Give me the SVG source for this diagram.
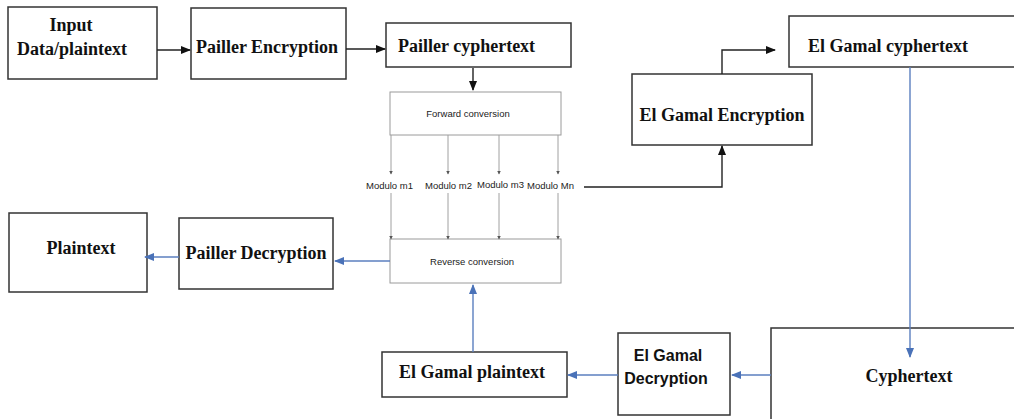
<svg xmlns="http://www.w3.org/2000/svg" width="1014" height="419" viewBox="0 0 1014 419">
<style>
.box{fill:#fff;stroke:#333;stroke-width:1.5}
.gbox{fill:#fff;stroke:#9a9a9a;stroke-width:1}
.t{font-family:"Liberation Serif","Times New Roman",serif;font-weight:bold;font-size:18px;fill:#111}
.s{font-family:"Liberation Sans",Arial,sans-serif;font-weight:bold;font-size:16px;fill:#111}
.sm{font-family:"Liberation Sans",Arial,sans-serif;font-size:9.5px;fill:#222}
.k{fill:none;stroke:#222;stroke-width:1.4}
.b{fill:none;stroke:#5b7fbf;stroke-width:1.4}
.g{fill:none;stroke:#a0a0a0;stroke-width:1}
</style>
<defs>
<marker id="ak" markerWidth="10" markerHeight="8" refX="9" refY="4" orient="auto" markerUnits="userSpaceOnUse"><path d="M0,0 L10,4 L0,8 z" fill="#111"/></marker>
<marker id="ab" markerWidth="10" markerHeight="8" refX="9" refY="4" orient="auto" markerUnits="userSpaceOnUse"><path d="M0,0 L10,4 L0,8 z" fill="#4a72b8"/></marker>
<marker id="ag" markerWidth="4" markerHeight="4" refX="3.5" refY="2" orient="auto" markerUnits="userSpaceOnUse"><path d="M0,0 L4,2 L0,4 z" fill="#555"/></marker>
</defs>
<rect width="1014" height="419" fill="#fff"/>
<g id="input"><rect class="box" x="8" y="7" width="149" height="72"/><text class="t" x="71" y="31" text-anchor="middle" font-size="17">Input</text><text class="t" x="72" y="55" text-anchor="middle" font-size="17">Data/plaintext</text></g>
<g id="pailler-enc"><rect class="box" x="191" y="8" width="155" height="71"/><text class="t" x="267" y="53" text-anchor="middle">Pailler  Encryption</text></g>
<g id="pailler-cipher"><rect class="box" x="386" y="23" width="185" height="44"/><text class="t" x="398" y="52">Pailler  cyphertext</text></g>
<g id="forward"><rect class="gbox" x="390" y="92" width="171" height="43"/><text class="sm" x="468" y="117" text-anchor="middle">Forward conversion</text></g>
<g id="modulos"><text class="sm" x="366" y="189" font-size="10.5">Modulo m1</text><text class="sm" x="425" y="189" font-size="10.5">Modulo m2</text><text class="sm" x="477" y="188" font-size="10.5">Modulo m3</text><text class="sm" x="527" y="189" font-size="10.5">Modulo Mn</text></g>
<g id="reverse"><rect class="gbox" x="390" y="239" width="171" height="44"/><text class="sm" x="472" y="265" text-anchor="middle">Reverse conversion</text></g>
<g id="elgamal-enc"><rect class="box" x="632" y="74" width="180" height="71"/><text class="t" x="722" y="121" text-anchor="middle">El Gamal  Encryption</text></g>
<g id="elgamal-cipher"><rect class="box" x="789" y="16" width="240" height="51"/><text class="t" x="808" y="52">El Gamal  cyphertext</text></g>
<g id="plaintext"><rect class="box" x="9" y="213" width="138" height="79"/><text class="t" x="81" y="254" text-anchor="middle">Plaintext</text></g>
<g id="pailler-dec"><rect class="box" x="179" y="218" width="154" height="71"/><text class="t" x="256" y="259" text-anchor="middle">Pailler  Decryption</text></g>
<g id="elgamal-plain"><rect class="box" x="382" y="352" width="185" height="45"/><text class="t" x="472" y="378" text-anchor="middle">El Gamal  plaintext</text></g>
<g id="elgamal-dec"><rect class="box" x="618" y="333" width="112" height="82"/><text class="s" x="668" y="361" text-anchor="middle">El Gamal</text><text class="s" x="666" y="384" text-anchor="middle">Decryption</text></g>
<g id="cyphertext"><rect class="box" x="771" y="328" width="260" height="110"/><text class="t" x="909" y="382" text-anchor="middle">Cyphertext</text></g>
<g id="connectors">
<path class="k" d="M157,50 H190" marker-end="url(#ak)"/>
<path class="k" d="M346,49 H385" marker-end="url(#ak)"/>
<path class="k" d="M473,68 V90" marker-end="url(#ak)"/>
<path class="g" d="M391,135 V174" marker-end="url(#ag)"/>
<path class="g" d="M448,135 V174" marker-end="url(#ag)"/>
<path class="g" d="M499,135 V174" marker-end="url(#ag)"/>
<path class="g" d="M558,135 V174" marker-end="url(#ag)"/>
<path class="g" d="M391,193 V239" marker-end="url(#ag)"/>
<path class="g" d="M448,193 V239" marker-end="url(#ag)"/>
<path class="g" d="M499,193 V239" marker-end="url(#ag)"/>
<path class="g" d="M558,193 V239" marker-end="url(#ag)"/>
<path class="k" d="M584,187 H722 V146" marker-end="url(#ak)"/>
<path class="k" d="M722,74 V50 H775" marker-end="url(#ak)"/>
<path class="b" d="M910,67 V357" marker-end="url(#ab)"/>
<path class="b" d="M771,375 H732" marker-end="url(#ab)"/>
<path class="b" d="M618,375 H568" marker-end="url(#ab)"/>
<path class="b" d="M473,352 V285" marker-end="url(#ab)"/>
<path class="b" d="M390,261 H335" marker-end="url(#ab)"/>
<path class="b" d="M179,257 H145" marker-end="url(#ab)"/>
</g>
</svg>
